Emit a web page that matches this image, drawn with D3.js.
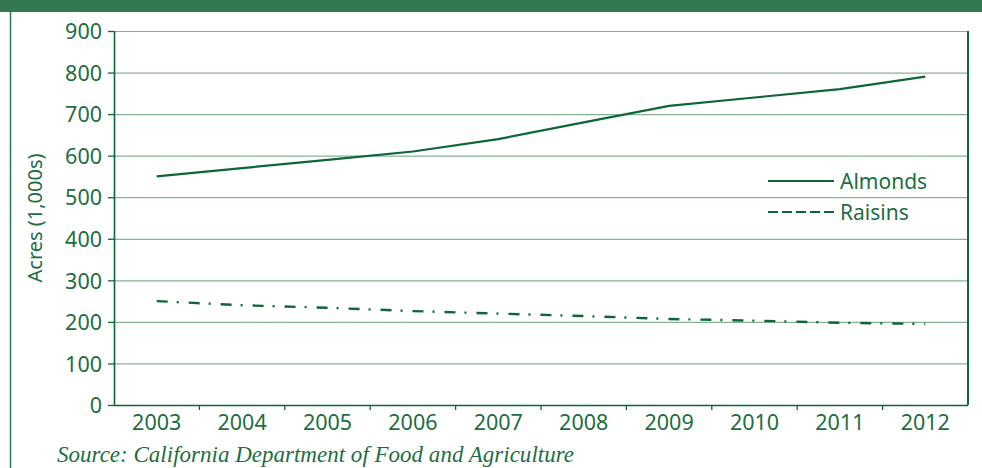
<!DOCTYPE html>
<html>
<head>
<meta charset="utf-8">
<script src="https://cdn.jsdelivr.net/npm/d3@7"></script>
<style>
	body { margin: 0; background: #fff; }
	svg { display: block; }
</style>
</head>
<body>
<svg id="svg_main" width="982" height="468"></svg>
<script>
var years = ["2003", "2004", "2005", "2006", "2007", "2008", "2009", "2010", "2011", "2012"];
var almonds = [550, 570, 590, 610, 640, 680, 720, 740, 760, 790];
var raisins = [250, 240, 234, 226, 220, 214, 207, 203, 198, 195];
var yTicks = [0, 100, 200, 300, 400, 500, 600, 700, 800, 900];

var margin = { top: 31, left: 114, right: 14, bottom: 63 };
var green = "#1d6e42",
	lineGreen = "#0e6638",
	gridGreen = "#86b295",
	font = "'Noto Sans', sans-serif";

function main() {
	var svg = d3.select("#svg_main");
	var W = 982, H = 468;
	var width = W - margin.left - margin.right,
		height = H - margin.top - margin.bottom;

	// header band and left rule
	svg.append("rect")
		.attr("x", 0).attr("y", 0)
		.attr("width", W).attr("height", 12)
		.attr("fill", "#34784f");
	svg.append("line")
		.attr("x1", 10.5).attr("x2", 10.5)
		.attr("y1", 12).attr("y2", H)
		.attr("stroke", "#34784f")
		.attr("stroke-width", 1.5);

	var g = svg.append("g")
		.attr("transform", `translate(${margin.left}, ${margin.top})`);

	var x = d3.scaleBand().range([0, width]).domain(years),
		y = d3.scaleLinear().range([height, 0]).domain([0, 900]);

	// grid
	g.append("g")
		.attr("class", "grid")
		.selectAll("line")
		.data(yTicks.slice(1))
		.enter().append("line")
		.attr("x1", 0).attr("x2", width)
		.attr("y1", d => y(d) + 0.5).attr("y2", d => y(d) + 0.5)
		.attr("stroke", gridGreen)
		.attr("stroke-width", 1.2);

	// right border
	g.append("line")
		.attr("x1", width).attr("x2", width)
		.attr("y1", 0).attr("y2", height)
		.attr("stroke", lineGreen)
		.attr("stroke-width", 2);

	var yAxis = d3.axisLeft(y).tickValues(yTicks).tickSize(6).tickPadding(6),
		xAxis = d3.axisBottom(x).tickSize(0).tickPadding(20);

	var ya = g.append("g")
		.attr("class", "yAxis")
		.call(yAxis);
	ya.select(".domain").attr("stroke", lineGreen).attr("stroke-width", 1.6)
		.attr("d", `M0.5,${height}V0`);
	ya.selectAll(".tick line").attr("stroke", lineGreen).attr("stroke-width", 1.3);
	ya.selectAll(".tick text")
		.attr("font-family", font)
		.attr("font-size", "21.5px")
		.attr("fill", green)
		.attr("dy", "0.36em");

	var xa = g.append("g")
		.attr("class", "xAxis")
		.attr("transform", `translate(0, ${height})`)
		.call(xAxis);
	xa.select(".domain").attr("stroke", lineGreen).attr("stroke-width", 1.6)
		.attr("d", `M0,0.5H${width}`);
	xa.selectAll(".tick text")
		.attr("font-family", font)
		.attr("font-size", "21.5px")
		.attr("fill", green)
		.attr("dy", "0.25em");
	// ticks at band boundaries
	xa.selectAll(".bound")
		.data(years.slice(1))
		.enter().append("line")
		.attr("class", "bound")
		.attr("x1", d => x(d)).attr("x2", d => x(d))
		.attr("y1", 0).attr("y2", 5)
		.attr("stroke", lineGreen)
		.attr("stroke-width", 1.3);

	var line = d3.line()
		.x((d, i) => x(years[i]) + x.bandwidth() / 2)
		.y(d => y(d));

	g.append("path")
		.datum(almonds)
		.attr("d", line)
		.attr("fill", "none")
		.attr("stroke", lineGreen)
		.attr("stroke-width", 2.2);

	g.append("path")
		.datum(raisins)
		.attr("d", line)
		.attr("fill", "none")
		.attr("stroke", lineGreen)
		.attr("stroke-width", 2.4)
		.attr("stroke-dasharray", "11,9,2,10");

	// legend
	var legend = [
		{ name: "Almonds", dash: null, y: 181 },
		{ name: "Raisins", dash: "10,4", y: 212 }
	];
	var lg = svg.append("g").attr("class", "legend");
	for (let d of legend) {
		lg.append("line")
			.attr("x1", 768).attr("x2", 834)
			.attr("y1", d.y).attr("y2", d.y)
			.attr("stroke", lineGreen)
			.attr("stroke-width", 2.2)
			.attr("stroke-dasharray", d.dash);
		lg.append("text")
			.attr("x", 840)
			.attr("y", d.y + 8)
			.attr("font-family", font)
			.attr("font-size", "21px")
			.attr("fill", green)
			.text(d.name);
	}

	// axis title
	svg.append("text")
		.attr("transform", `translate(42, ${margin.top + height / 2}) rotate(-90)`)
		.attr("text-anchor", "middle")
		.attr("font-family", font)
		.attr("font-size", "20px")
		.attr("fill", green)
		.text("Acres (1,000s)");

	// source
	svg.append("text")
		.attr("x", 57)
		.attr("y", 462)
		.attr("font-family", "'Liberation Serif', serif")
		.attr("font-style", "italic")
		.attr("font-size", "24px")
		.attr("fill", green)
		.attr("textLength", 517)
		.attr("lengthAdjust", "spacingAndGlyphs")
		.text("Source: California Department of Food and Agriculture");
}

main();
</script>
</body>
</html>
